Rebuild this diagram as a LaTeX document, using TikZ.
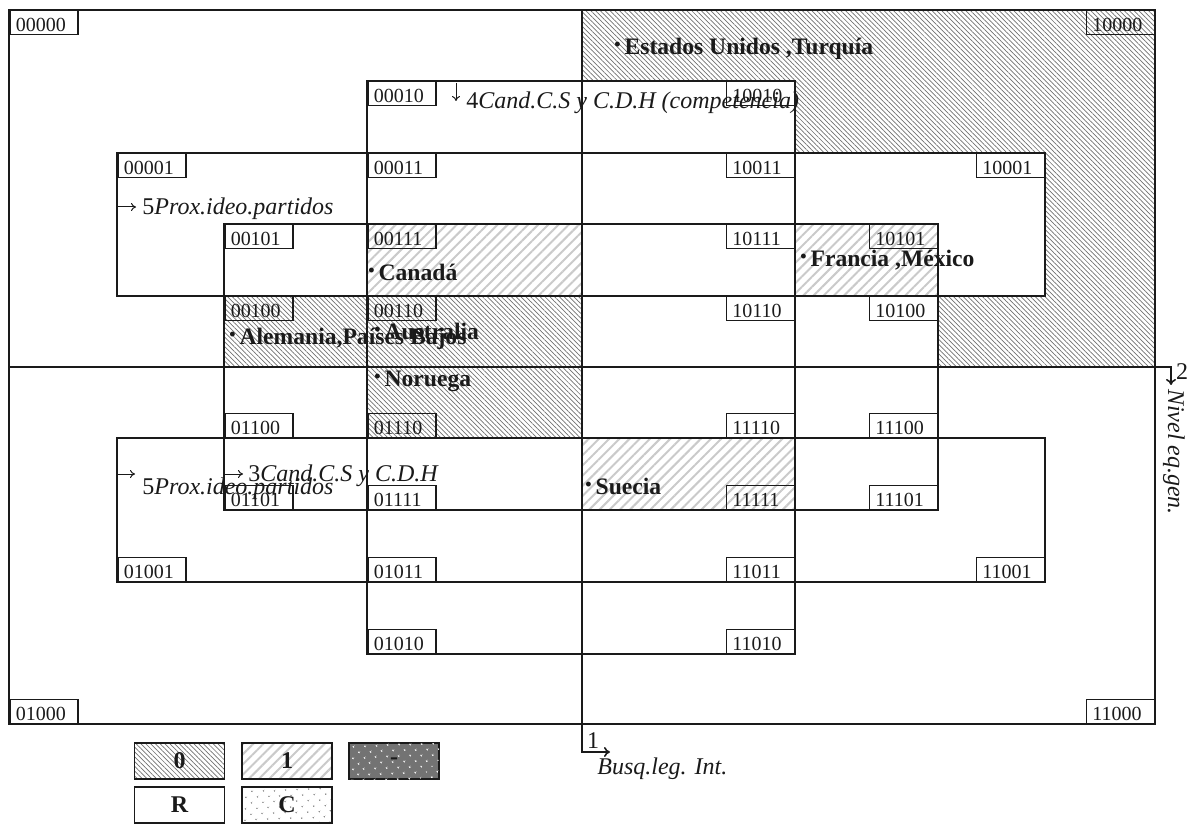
\documentclass[tikz,border=0pt]{standalone}
\usepackage{fontspec}
\setmainfont{Liberation Serif}
\usetikzlibrary{arrows.meta,patterns.meta,positioning}
\definecolor{tinta}{HTML}{1A1A1A}
\definecolor{trama}{HTML}{707070}
\definecolor{tramaclara}{HTML}{CACACA}
\newcommand{\pto}{{\fontsize{9}{9}\selectfont\raisebox{2pt}{\textbullet}}\,}
\tikzset{
  linea/.style={draw=tinta,line width=0.8pt},
  etiq/.style={draw=tinta,line width=0.75pt,font=\fontsize{10}{10}\selectfont,text=tinta,text width=28pt,align=left,inner xsep=3pt,inner ysep=1.3pt,text height=9.2pt,text depth=0pt},
  cero/.style={pattern={Lines[angle=-45,distance=1.7pt,line width=0.35pt]},pattern color=trama},
  uno/.style={pattern={Lines[angle=45,distance=3.6pt,line width=1pt]},pattern color=tramaclara},
  pais/.style={font=\fontsize{11.8}{12}\selectfont\bfseries,text=tinta,inner sep=0pt,anchor=west},
  eje/.style={font=\fontsize{12}{12}\selectfont,text=tinta,inner sep=0pt},
  flecha/.style={draw=tinta,line width=0.5pt,-{To[length=2.5pt,width=4pt]}},
  leyenda/.style={draw=tinta,line width=0.8pt,minimum width=45pt,minimum height=18pt,font=\fontsize{12}{12}\selectfont\bfseries,text=tinta,inner sep=0pt},
}
\begin{document}
\begin{tikzpicture}[x=0.5pt,y=-0.5pt]
\useasboundingbox (0,0) rectangle (1191,824);
% celdas con trama
\path[cero] (582,10) -- (1155,10) -- (1155,367) -- (938,367) -- (938,296) -- (1045,296)
  -- (1045,153) -- (795,153) -- (795,81) -- (582,81) -- cycle;
\path[cero] (224,296) rectangle (582,367);
\path[cero] (367,367) rectangle (582,438);
\path[uno] (367,224) rectangle (582,296);
\path[uno] (795,224) rectangle (938,296);
\path[uno] (582,438) rectangle (795,510);
% regiones
\draw[linea] (9,10) rectangle (1155,724);
\draw[linea] (367,81) rectangle (795,654);
\draw[linea] (117,153) rectangle (1045,296);
\draw[linea] (117,438) rectangle (1045,582);
\draw[linea] (224,224) rectangle (938,510);
% ejes 1 y 2
\coordinate (o1) at (582,10);
\coordinate (f1) at (610,752);
\coordinate (o2) at (9,367);
\coordinate (f2) at (1171,385);
\draw[linea,-{To[length=3pt,width=5pt]}] (o1) |- (f1);
\draw[linea,-{To[length=3pt,width=5pt]}] (o2) -| (f2);
\node[eje] (n1) at (593,741) {1};
\node[eje,anchor=west] (t1) at (597,769) {\itshape Busq.leg. Int.};
\node[eje] (n2) at (1182,372) {2};
\node[eje,rotate=-90] (t2) at (1174,452) {\itshape Nivel eq.gen.};
% variables 3, 4 y 5
\coordinate (a4) at (456,83);
\coordinate (b4) at (456,101);
\draw[flecha] (a4) -- (b4);
\node[eje,anchor=west] (t4) at (466,103) {4\itshape Cand.C.S y C.D.H (competencia)};
\coordinate (a5) at (117,207);
\coordinate (b5) at (136,207);
\draw[flecha] (a5) -- (b5);
\node[eje,anchor=west] (t5) at (142,209) {5\itshape Prox.ideo.partidos};
\coordinate (c5) at (117,474);
\coordinate (d5) at (135,474);
\draw[flecha] (c5) -- (d5);
\node[eje,anchor=west] (u5) at (142,489) {5\itshape Prox.ideo.partidos};
\coordinate (a3) at (224,474);
\coordinate (b3) at (243,474);
\draw[flecha] (a3) -- (b3);
\node[eje,anchor=west] (t3) at (248,476) {3\itshape Cand.C.S y C.D.H};
% etiquetas de celda
\node[etiq,anchor=north west] (e00000) at (9,10) {00000};
\node[etiq,anchor=north west] (e00010) at (367,81) {00010};
\node[etiq,anchor=north west] (e00001) at (117,153) {00001};
\node[etiq,anchor=north west] (e00011) at (367,153) {00011};
\node[etiq,anchor=north west] (e00101) at (224,224) {00101};
\node[etiq,anchor=north west] (e00111) at (367,224) {00111};
\node[etiq,anchor=north west] (e00100) at (224,296) {00100};
\node[etiq,anchor=north west] (e00110) at (367,296) {00110};
\node[etiq,anchor=north east] (e10000) at (1155,10) {10000};
\node[etiq,anchor=north east] (e10010) at (795,81) {10010};
\node[etiq,anchor=north east] (e10001) at (1045,153) {10001};
\node[etiq,anchor=north east] (e10011) at (795,153) {10011};
\node[etiq,anchor=north east] (e10101) at (938,224) {10101};
\node[etiq,anchor=north east] (e10111) at (795,224) {10111};
\node[etiq,anchor=north east] (e10100) at (938,296) {10100};
\node[etiq,anchor=north east] (e10110) at (795,296) {10110};
\node[etiq,anchor=south west] (e01000) at (9,724) {01000};
\node[etiq,anchor=south west] (e01010) at (367,654) {01010};
\node[etiq,anchor=south west] (e01001) at (117,582) {01001};
\node[etiq,anchor=south west] (e01011) at (367,582) {01011};
\node[etiq,anchor=south west] (e01101) at (224,510) {01101};
\node[etiq,anchor=south west] (e01111) at (367,510) {01111};
\node[etiq,anchor=south west] (e01100) at (224,438) {01100};
\node[etiq,anchor=south west] (e01110) at (367,438) {01110};
\node[etiq,anchor=south east] (e11000) at (1155,724) {11000};
\node[etiq,anchor=south east] (e11010) at (795,654) {11010};
\node[etiq,anchor=south east] (e11001) at (1045,582) {11001};
\node[etiq,anchor=south east] (e11011) at (795,582) {11011};
\node[etiq,anchor=south east] (e11101) at (938,510) {11101};
\node[etiq,anchor=south east] (e11111) at (795,510) {11111};
\node[etiq,anchor=south east] (e11100) at (938,438) {11100};
\node[etiq,anchor=south east] (e11110) at (795,438) {11110};
% paises
\node[pais] (eeuu) at (614,49) {\pto Estados Unidos ,Turquía};
\node[pais] (canada) at (368,272) {\pto Canadá};
\node[pais] (francia) at (800,260) {\pto Francia ,México};
\node[pais] (alemania) at (229,339) {\pto Alemania,Países Bajos};
\node[pais] (australia) at (374,331) {\pto Australia};
\node[pais] (noruega) at (374,381) {\pto Noruega};
\node[pais] (suecia) at (585,486) {\pto Suecia};
% leyenda
\node[leyenda,cero] (l0) at (179.5,761) {0};
\node[leyenda,uno] (l1) at (287,761) {1};
\node[leyenda,fill=black!55,postaction={pattern={Dots[distance=4pt,angle=45,radius=0.5pt]},pattern color=white}] (lg) at (394,761) {-};
\node[leyenda] (lr) at (179.5,805) {R};
\node[leyenda,pattern={Dots[distance=4pt,angle=45,radius=0.45pt]},pattern color=black!55] (lc) at (287,805) {C};
\end{tikzpicture}
\end{document}
